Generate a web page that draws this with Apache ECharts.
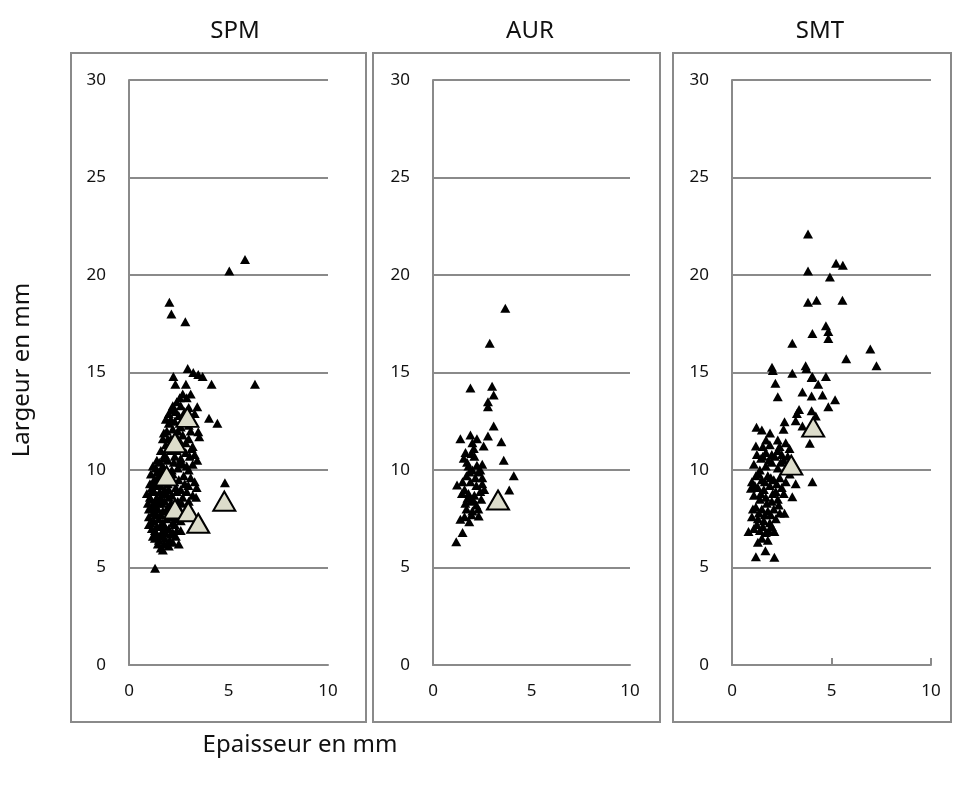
<!DOCTYPE html>
<html><head><meta charset="utf-8">
<script src="https://cdn.jsdelivr.net/npm/echarts@6/dist/echarts.min.js"></script>
<style>html,body{margin:0;padding:0;background:#fff}#c{width:954px;height:785px}</style>
</head><body><div id="c"></div>
<script>
const panelNames = ['SPM', 'AUR', 'SMT'];
const yTicks = [0, 5, 10, 15, 20, 25, 30];
const xTicks = [0, 5, 10];

const spmPoints = [
 [5.83,20.8],[5.04,20.2],[2.03,18.6],[2.13,18.0],[2.83,17.6],[2.95,15.2],[3.23,15.0],[3.48,14.9],[3.7,14.8],
 [2.23,14.8],[2.33,14.4],[2.86,14.4],[4.15,14.4],[6.33,14.4],[4.02,12.65],[4.44,12.4],[4.82,9.35],[1.31,4.96],
 [2.2,13.3],[2.4,13.5],[2.6,13.3],[2.9,13.7],[3.1,13.9],[3.43,13.25],[3.3,12.9],[2.5,12.8],[2.1,12.6],[3.0,12.3],
 [3.48,11.96],[3.53,11.7],[3.15,11.1],[3.43,10.5],[2.2,12.1],[1.9,12.0],[2.7,11.8],[1.7,11.6],[2.4,11.0],[3.2,11.2],
 [3.2,10.3],[2.0,11.2],[1.6,11.0],[1.4,10.5],[1.8,10.8],[2.6,10.6],[3.0,10.0],[1.5,9.9],[1.3,9.5],[2.2,9.8],
 [2.5,9.5],[2.8,9.3],[3.1,9.6],[3.4,9.1],[1.2,9.0],[1.6,9.2],[2.0,9.0],[2.4,8.9],[2.7,8.6],[3.2,8.7],[2.98,9.2],[3.37,8.6],
 [1.1,8.5],[1.4,8.6],[1.8,8.4],[2.1,8.3],[1.0,8.0],[1.3,7.9],[1.6,7.7],[1.9,7.9],[2.3,7.6],[2.6,7.4],
 [1.1,7.3],[1.4,7.1],[1.7,7.3],[2.0,7.0],[2.4,6.9],[1.2,6.6],[1.5,6.4],[1.8,6.5],[2.2,6.3],[2.5,6.2],
 [1.6,6.0],[2.0,6.1],[1.3,6.9],[1.0,7.6],[0.9,8.8],[1.1,9.8],[1.2,10.2],[1.05,9.3],[0.95,8.3],[1.15,7.0],
 [1.25,8.2],[1.45,8.0],[1.55,8.9],[1.35,9.2],[1.75,9.5],[1.95,9.3],[1.85,8.8],[2.15,8.7],[2.25,9.4],[1.65,8.3],
 [1.9,7.5],[2.15,7.8],[1.5,7.5],[1.7,6.9],[2.1,6.7],[1.9,6.2],[1.4,6.7],[2.3,7.2],[2.55,8.0],[2.45,8.4],
 [1.7,10.2],[1.95,10.5],[2.25,10.4],[2.45,10.1],[2.7,10.3],[2.85,10.9],[2.1,11.6],[2.35,11.8],[2.6,12.2],[2.75,12.6],
 [2.35,13.0],[2.0,12.9],[1.85,11.3],[1.55,10.4],[1.45,9.6],[2.05,9.7],[2.6,9.0],[2.9,8.9],[1.6,8.6],[1.3,8.4],
 [1.8,7.1],[1.2,7.8],[1.6,6.6],[2.2,6.8],[1.7,5.9],[2.05,6.4],[2.4,7.5],[2.8,7.9],[3.0,8.4],[3.3,9.4],
 [2.7,13.9],[3.0,13.2],[3.2,12.5],[2.85,11.4],[3.05,10.7],[2.55,11.5],[2.3,12.5],[1.75,11.9],[2.15,10.0],[1.95,8.1],
 [1.15,8.1],[1.25,7.4],[1.35,7.7],[1.05,8.6],[1.2,9.4],[1.4,9.9],[1.5,8.3],[1.7,7.9],[1.8,9.0],[2.0,8.6],
 [1.55,7.1],[1.85,6.8],[2.25,8.1],[2.35,9.1],[1.65,9.8],[1.9,9.9],[2.3,10.7],[2.1,11.0],[1.75,10.6],[1.6,10.0],
 [1.35,10.1],[1.25,8.9],[1.45,8.4],[1.95,7.6],[2.2,7.3],[1.3,6.5],[1.45,6.2],[1.75,6.2],[2.35,6.6],[2.6,6.9],
 [2.5,7.7],[2.65,8.3],[2.75,9.7],[2.55,10.4],[2.9,10.2],[2.45,11.3],[2.65,11.1],[1.95,11.6],[2.25,11.4],[2.45,12.0],
 [2.0,12.4],[1.85,12.6],[2.15,13.1],[2.55,13.7],[2.8,13.0],[3.0,11.6],[3.3,10.8],[3.1,12.0],[1.15,9.1],[1.0,7.2]
];
const spmMeans = [[2.93,12.7],[2.31,11.4],[1.89,9.7],[2.31,8.0],[2.98,7.86],[3.48,7.27],[4.79,8.4]];

const aurPoints = [
 [3.67,18.3],[2.88,16.5],[1.9,14.2],[3.0,14.3],[3.08,13.85],[2.79,13.5],[2.79,13.25],[3.08,12.26],[1.39,11.6],[1.9,11.8],
 [2.23,11.6],[2.79,11.74],[3.47,11.45],[2.57,11.23],[2.07,11.1],[1.95,10.85],[1.56,10.6],[1.73,10.4],[3.59,10.5],[2.23,10.25],
 [2.4,10.0],[4.1,9.7],[1.22,9.23],[3.87,8.97],[1.47,8.8],[1.64,8.3],[2.32,7.64],[1.39,7.47],[1.84,7.35],[1.5,6.8],[1.18,6.32],
 [2.0,11.4],[2.1,10.7],[1.8,10.2],[2.3,9.9],[2.5,9.6],[1.7,9.7],[1.9,9.4],[2.2,9.2],[2.5,9.3],[1.6,9.0],
 [1.8,8.8],[2.1,8.7],[2.4,8.9],[1.9,8.4],[2.2,8.2],[1.7,8.0],[2.0,7.9],[2.3,8.0],[1.6,7.6],[2.5,10.3],
 [2.6,9.0],[1.5,9.4],[2.0,10.0],[1.85,9.9],[2.15,9.6],[1.75,8.55],[2.05,8.45],[1.95,7.7],[2.45,8.5],[1.65,10.9]
];
const aurMeans = [[3.3,8.46]];

const smtPoints = [
 [3.82,22.1],[5.23,20.6],[5.57,20.5],[3.82,20.2],[4.92,19.9],[3.82,18.6],[4.25,18.7],[5.55,18.7],[4.72,17.4],[4.84,17.1],
 [4.04,17.0],[4.84,16.75],[3.03,16.5],[6.95,16.2],[5.74,15.7],[7.26,15.35],[2.01,15.27],[3.7,15.35],[3.74,15.2],[3.03,14.96],
 [4.04,14.8],[4.72,14.8],[2.05,15.1],[4.0,14.75],[4.33,14.4],[2.18,14.45],[3.54,14.0],[2.3,13.76],[4.0,13.8],[4.55,13.85],
 [5.18,13.6],[4.84,13.25],[3.37,13.1],[3.26,12.9],[4.0,13.04],[4.21,12.77],[3.2,12.53],[2.64,12.48],[2.59,12.09],[3.54,12.26],
 [1.23,12.19],[1.5,12.05],[1.91,11.9],[3.91,11.37],[1.71,11.54],[2.3,11.54],[1.2,11.23],[2.39,11.2],[2.89,11.1],[1.46,10.6],
 [3.2,9.3],[4.04,9.4],[0.95,9.06],[3.03,8.63],[2.64,7.78],[0.83,6.84],[2.13,6.84],[1.2,5.55],[1.68,5.86],[2.13,5.52],
 [1.1,10.3],[1.4,10.0],[1.7,10.2],[2.0,10.4],[2.3,10.1],[2.6,10.5],[1.2,9.7],[1.5,9.5],[1.8,9.7],[2.1,9.5],
 [2.4,9.6],[1.0,9.4],[1.3,9.1],[1.6,9.0],[1.9,9.2],[2.2,8.9],[2.5,9.1],[1.1,8.7],[1.4,8.5],[1.7,8.6],
 [2.0,8.4],[2.3,8.5],[2.6,8.8],[1.2,8.1],[1.5,8.0],[1.8,7.9],[2.1,8.0],[2.4,7.8],[1.0,7.6],[1.3,7.5],
 [1.6,7.4],[1.9,7.3],[2.2,7.5],[1.1,7.0],[1.4,6.9],[1.7,6.8],[2.0,7.1],[1.5,6.5],[1.8,6.4],[1.3,6.3],
 [2.3,11.0],[2.0,10.8],[1.7,10.9],[2.5,10.8],[1.9,11.3],[2.7,11.4],[2.8,10.7],[2.9,9.8],[2.7,9.4],[1.25,10.8],[1.55,11.2],
 [1.35,9.8],[1.65,9.4],[1.95,9.6],[2.25,9.3],[1.45,8.8],[1.75,8.3],[2.05,8.8],[2.35,8.2],[1.35,7.8],[1.65,7.7],
 [1.95,7.7],[1.55,7.1],[1.85,6.9],[1.25,7.2],[2.15,10.7],[1.85,10.5],[1.55,10.7],[2.45,10.4],[1.15,9.2],[1.05,8.0]
];
const smtMeans = [[2.98,10.25],[4.08,12.2]];

const pointsByPanel = [spmPoints, aurPoints, smtPoints];
const meansByPanel = [spmMeans, aurMeans, smtMeans];

const gridLeft = [129, 433, 732];
const gridWidth = [199, 197, 199];
const boxes = [[71, 295], [373, 287], [673, 278]];
const titleCenters = [230, 525, 815];
const grey = '#8a8a8a';
const font = "'Noto Sans', 'Open Sans', sans-serif";

const grids = [], xAxes = [], yAxes = [], series = [], titles = [], graphics = [];
for (let i = 0; i < 3; i++) {
  grids.push({left: gridLeft[i], top: 80, width: gridWidth[i], height: 585, containLabel: false});
  xAxes.push({
    gridIndex: i, type: 'value', min: xTicks[0], max: xTicks[xTicks.length - 1], interval: 5,
    axisLine: {show: true, lineStyle: {color: grey, width: 2}},
    axisTick: {show: i === 2, inside: true, length: 7, lineStyle: {color: grey, width: 2}},
    splitLine: {show: false},
    axisLabel: {color: '#111', fontSize: 17, fontFamily: font, margin: 18}
  });
  yAxes.push({
    gridIndex: i, type: 'value', min: yTicks[0], max: yTicks[yTicks.length - 1], interval: 5,
    axisLine: {show: true, lineStyle: {color: grey, width: 2}},
    axisTick: {show: false},
    splitLine: {show: true, lineStyle: {color: grey, width: 2}},
    axisLabel: {color: '#111', fontSize: 17, fontFamily: font, margin: 23}
  });
  series.push({
    type: 'scatter', xAxisIndex: i, yAxisIndex: i, data: pointsByPanel[i],
    symbol: 'triangle', symbolSize: [10, 9], itemStyle: {color: '#000', opacity: 1}, z: 3
  });
  series.push({
    type: 'scatter', xAxisIndex: i, yAxisIndex: i, data: meansByPanel[i],
    symbol: 'triangle', symbolSize: [22, 19],
    itemStyle: {color: '#dcdccb', borderColor: '#000', borderWidth: 2, opacity: 1}, z: 4
  });
  titles.push({text: panelNames[i], left: titleCenters[i], top: 14, textAlign: 'center',
    textStyle: {fontSize: 24, fontWeight: 'normal', color: '#111', fontFamily: font}});
  graphics.push({type: 'rect', shape: {x: boxes[i][0], y: 53, width: boxes[i][1], height: 669},
    style: {fill: 'none', stroke: grey, lineWidth: 2}, z: 0});
}
graphics.push({type: 'text', x: 22, y: 370, rotation: Math.PI / 2,
  style: {text: 'Largeur en mm', fontSize: 24, fontFamily: font, fill: '#111', textAlign: 'center', textVerticalAlign: 'middle'}});
graphics.push({type: 'text', x: 300, y: 745,
  style: {text: 'Epaisseur en mm', fontSize: 24, fontFamily: font, fill: '#111', textAlign: 'center', textVerticalAlign: 'middle'}});

const chart = echarts.init(document.getElementById('c'), null, {renderer: 'canvas'});
chart.setOption({
  animation: false, backgroundColor: '#fff',
  title: titles, grid: grids, xAxis: xAxes, yAxis: yAxes, series: series, graphic: graphics
});
</script></body></html>
